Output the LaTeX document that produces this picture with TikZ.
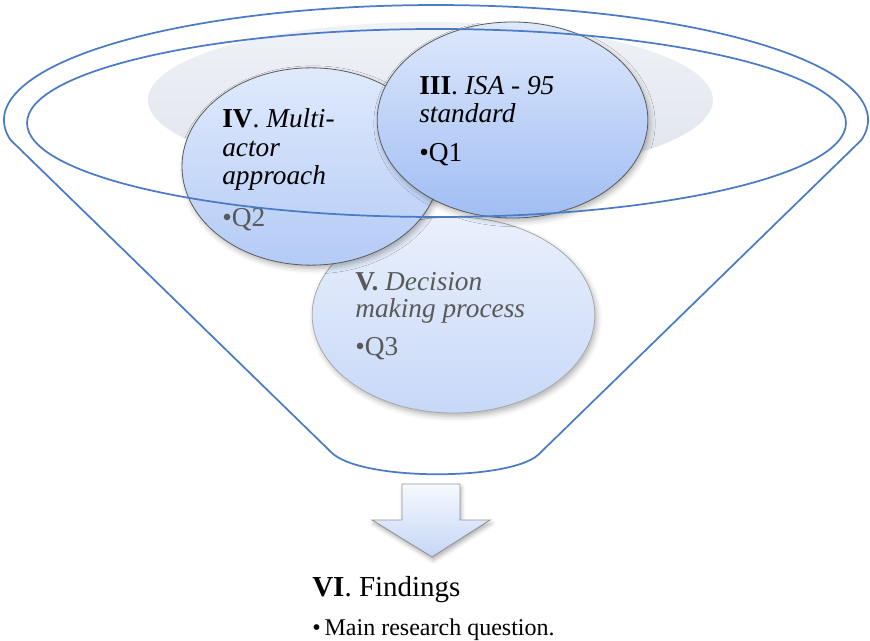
\documentclass[tikz,border=0pt]{standalone}
\usepackage{fontspec}
\setmainfont{Liberation Serif}
\usetikzlibrary{shapes.geometric,shadows.blur}

\definecolor{funnelblue}{HTML}{4A7BC4}
\definecolor{edgedark}{HTML}{5A5A5A}
\definecolor{edgelight}{HTML}{A8A8A8}
\definecolor{softtext}{HTML}{595959}
\definecolor{haloTop}{HTML}{EFF2F7}
\definecolor{haloBot}{HTML}{E0E4EC}

\tikzset{
  bubble/.style={ellipse, inner sep=0pt, line width=0.6pt,
    blur shadow={shadow xshift=1.5pt, shadow yshift=-2.5pt,
                 shadow blur radius=4pt, shadow opacity=30}},
  funnelline/.style={draw=funnelblue, line width=1.3pt, line join=round},
  txt/.style={anchor=base west, inner sep=0pt,
    font=\fontsize{20.5}{21}\selectfont},
  findtxt/.style={anchor=base west, inner sep=0pt,
    font=\fontsize{21.75}{22}\selectfont},
  qtxt/.style={anchor=base west, inner sep=0pt,
    font=\fontsize{18}{19}\selectfont},
}

\begin{document}
\begin{tikzpicture}[x=0.75pt,y=-0.75pt]
\useasboundingbox (0,0) rectangle (870,641);

% soft backdrop behind the bubbles
\shade[top color=haloTop, bottom color=haloBot]
  (430.5,100) ellipse [x radius=211.9pt, y radius=58.5pt];

% the three topic bubbles (bottom one first, top-right one last)
\node[bubble, draw=edgelight, top color={rgb,255:red,234;green,240;blue,252}, bottom color={rgb,255:red,199;green,216;blue,248},
      minimum width=212pt, minimum height=147pt] (dec) at (453.5,315) {};
\node[bubble, draw=edgedark, top color={rgb,255:red,224;green,234;blue,252}, bottom color={rgb,255:red,180;green,203;blue,246},
      minimum width=193.5pt, minimum height=148pt] (multi) at (311,166.5) {};
\node[bubble, draw=edgedark, top color={rgb,255:red,221;green,232;blue,252}, bottom color={rgb,255:red,160;green,189;blue,243},
      minimum width=203pt, minimum height=147pt] (isa) at (512.5,120) {};

% bubble labels
\node[txt] (isa1) at (419,95) {\textbf{III}. \textit{ISA - 95}};
\node[txt] (isa2) at (419,123) {\textit{standard}};
\node[txt] (isa3) at (419,162) {•Q1};

\node[txt] (mul1) at (222,128) {\textbf{IV}. \textit{Multi-}};
\node[txt] (mul2) at (222,157) {\textit{actor}};
\node[txt] (mul3) at (222,185) {\textit{approach}};
\node[txt, text=softtext] (mul4) at (222,227) {•Q2};

\node[txt, text=softtext] (dec1) at (355,291) {\textbf{V.} \textit{Decision}};
\node[txt, text=softtext] (dec2) at (355,317) {\textit{making process}};
\node[txt, text=softtext] (dec3) at (355,355) {•Q3};

% funnel: inner rim and outer body
\draw[funnelline] (436.5,123) ellipse [x radius=307.1pt, y radius=70.5pt];

\coordinate (rimL) at (10.6,140);
\coordinate (rimR) at (861.4,140);
\coordinate (spoutL) at (332,453);
\coordinate (spoutR) at (538,455);
\draw[funnelline] (rimL) -- (spoutL)
  .. controls (362,481) and (508,481) .. (spoutR)
  -- (rimR) arc[start angle=-10, end angle=190, x radius=324pt, y radius=86.25pt]
  -- cycle;

% downward block arrow
\shade[top color={rgb,255:red,246;green,249;blue,254}, bottom color={rgb,255:red,197;green,214;blue,246},
       draw={rgb,255:red,150;green,150;blue,150}, line width=0.7pt,
       blur shadow={shadow xshift=1pt, shadow yshift=-2.5pt, shadow blur radius=3pt, shadow opacity=30}]
  (402,484) -- (460,484) -- (460,520) -- (490,520) -- (432,557)
  -- (372,520) -- (402,520) -- cycle;

% outcome
\node[findtxt] (find) at (312,596) {\textbf{VI}. Findings};
\node[qtxt] (mainq) at (312,635) {•\,Main research question.};
\end{tikzpicture}
\end{document}
